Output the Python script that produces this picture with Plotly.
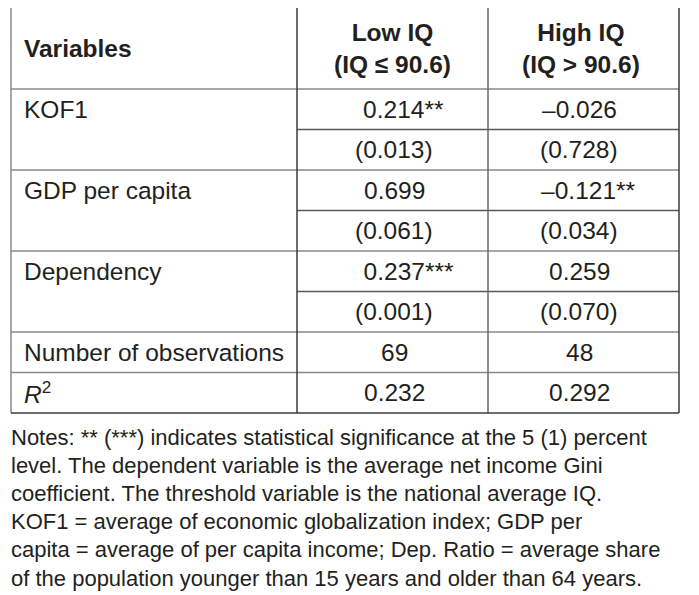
import plotly.graph_objects as go

# ---- data ----
col_headers = ["Variables", "Low IQ<br>(IQ ≤ 90.6)", "High IQ<br>(IQ > 90.6)"]
variables = ["KOF1", "GDP per capita", "Dependency"]
low_coef = ["0.214", "0.699", "0.237"]
low_stars = ["**", "", "***"]
low_se = ["(0.013)", "(0.061)", "(0.001)"]
high_coef = ["–0.026", "–0.121", "0.259"]
high_stars = ["", "**", ""]
high_se = ["(0.728)", "(0.034)", "(0.070)"]
stat_labels = ["Number of observations", "<i>R</i><sup>2</sup>"]
low_stats = ["69", "0.232"]
high_stats = ["48", "0.292"]
notes = [
    "Notes: ** (***) indicates statistical significance at the 5 (1) percent",
    "level. The dependent variable is the average net income Gini",
    "coefficient. The threshold variable is the national average IQ.",
    "KOF1 = average of economic globalization index; GDP per",
    "capita = average of per capita income; Dep. Ratio = average share",
    "of the population younger than 15 years and older than 64 years.",
]

# ---- layout geometry (page pixels) ----
W, H = 699, 595
OFF = 8  # default page body margin
X0, X1, X2, X3 = 11, 297, 488, 679
Y_TOP, Y_HEAD = 7, 89
ROW_H = 40.5
FONT = "Liberation Sans, Arial, Helvetica, sans-serif"
TXT = "#231f20"
FS = 24.5

fig = go.Figure()
shapes = []
ann = []

def line(x0, y0, x1, y1, color, w=1.5):
    shapes.append(dict(type="line", xref="x", yref="y", x0=x0, y0=y0, x1=x1, y1=y1,
                       line=dict(color=color, width=w)))

def text(x, y, s, anchor="center", size=FS, bold=False):
    if bold:
        s = "<b>" + s + "</b>"
    ann.append(dict(x=x, y=y, xref="x", yref="y", text=s, showarrow=False,
                    xanchor=anchor, yanchor="middle", align=anchor if anchor != "center" else "center",
                    font=dict(family=FONT, size=size, color=TXT)))

def starred(num, stars):
    if not stars:
        return num
    return '<span style="color:rgba(0,0,0,0)">' + stars + '</span>' + num + stars

c2 = 394
c3 = 579

# header
text(22, (Y_TOP + Y_HEAD) / 2, col_headers[0], anchor="left", bold=True)
text(c2 - 2, (Y_TOP + Y_HEAD) / 2, col_headers[1], bold=True)
text(c3 + 2, (Y_TOP + Y_HEAD) / 2, col_headers[2], bold=True)

y = Y_HEAD
row_lines = [Y_HEAD]
sub_lines = []
for i, v in enumerate(variables):
    ya = y + ROW_H / 2
    yb = y + ROW_H * 1.5
    text(22, ya, v, anchor="left")
    text(c2, ya, starred(low_coef[i], low_stars[i]))
    text(c3, ya, starred(high_coef[i], high_stars[i]))
    text(c2, yb, low_se[i])
    text(c3, yb, high_se[i])
    sub_lines.append(y + ROW_H)
    y += 2 * ROW_H
    row_lines.append(y)
for i, s in enumerate(stat_labels):
    ya = y + ROW_H / 2
    text(22, ya, s, anchor="left")
    text(c2, ya, low_stats[i])
    text(c3, ya, high_stats[i])
    y += ROW_H
    row_lines.append(y)
Y_BOT = y

GRAY = "#8a8a8a"
DARK = "#3c3c3c"
for yl in row_lines[:-1]:
    line(X0, yl, X3, yl, GRAY)
for yl in sub_lines:
    line(X1, yl, X3, yl, "#5a5a5a")
line(X1, Y_TOP, X1, Y_BOT, DARK)
line(X2, Y_TOP, X2, Y_BOT, "#6a6a6a")
line(X0, Y_TOP, X0, Y_BOT, GRAY)
line(X0, Y_TOP, X3, Y_TOP, DARK)
line(X3, Y_TOP, X3, Y_BOT, DARK)
line(X0, Y_BOT, X3, Y_BOT, DARK)

for i, n in enumerate(notes):
    text(9, 437 + i * 28.2, n, anchor="left", size=22)

fig.update_layout(
    width=W, height=H, margin=dict(l=0, r=0, t=0, b=0),
    paper_bgcolor="white", plot_bgcolor="white",
    xaxis=dict(range=[OFF, W + OFF], visible=False, fixedrange=True),
    yaxis=dict(range=[H + OFF, OFF], visible=False, fixedrange=True),
    shapes=shapes, annotations=ann, showlegend=False,
)
fig.write_html("out.html")
